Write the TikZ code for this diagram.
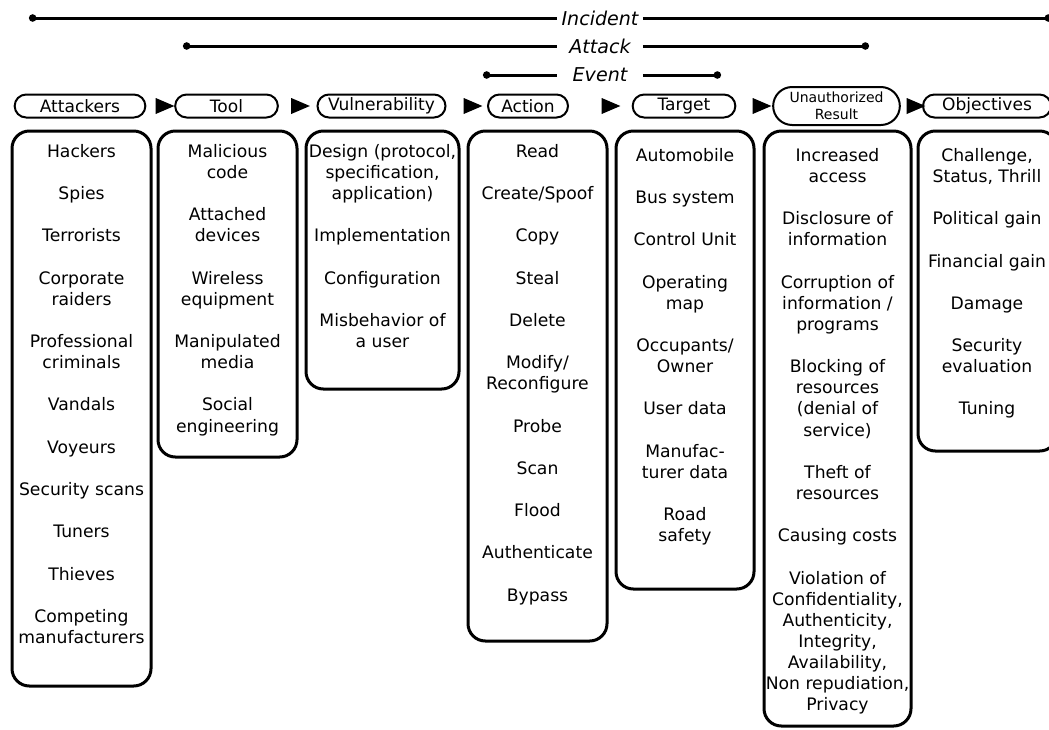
\documentclass[tikz,border=0pt]{standalone}
\usepackage{fontspec}
\setmainfont{DejaVu Sans}
\usetikzlibrary{arrows.meta,shapes.geometric,shapes.misc,fit}

\newlength\itemgap
\setlength\itemgap{15.85pt}

\tikzset{
	frame/.style={draw, line width=2.25pt, rounded corners=13pt, inner sep=0pt},
	head/.style={draw, rounded rectangle, line width=1.5pt, minimum height=17.25pt,
		inner sep=0pt, font=\fontsize{12.8}{15.85}\selectfont},
	tri/.style={fill, isosceles triangle, isosceles triangle stretches,
		minimum width=12pt, minimum height=14pt, inner sep=0pt},
	list/.style={align=center, anchor=north, inner sep=0pt,
		font=\fontsize{12.9}{15.85}\selectfont},
	span/.style={line width=2.25pt},
	spanlabel/.style={font=\itshape\fontsize{14.3}{17}\selectfont,
		minimum width=64pt, inner sep=0pt}
}

\begin{document}
\begin{tikzpicture}[x=0.75pt, y=-0.75pt]
		\useasboundingbox (0,0) rectangle (1049,729);

		% incident / attack / event
		\coordinate (incident start) at (29,18);
		\coordinate (incident end) at (1052,18);
		\coordinate (attack start) at (183,46);
		\coordinate (attack end) at (869,46);
		\coordinate (event start) at (483,75);
		\coordinate (event end) at (721,75);
		\node[spanlabel] (incident) at (600,18) {Incident};
		\node[spanlabel] (attack) at (600,46) {Attack};
		\node[spanlabel] (event) at (600,75) {Event};
		\foreach \s in {incident, attack, event}
		{
			\draw[span, {Circle[length=5.5pt]}-] (\s\space start) -- (\s);
			\draw[span, -{Circle[length=5.5pt]}] (\s) -- (\s\space end);
		}

		% headers
		\node[head, minimum width=98pt] (attackers) at (80,106) {Attackers};
		\node[head, minimum width=77pt] (tool) at (226.5,106) {Tool};
		\node[head, minimum width=96pt] (vulnerability) at (381.5,106) {Vulnerability};
		\node[head, minimum width=60pt] (action) at (528,106) {Action};
		\node[head, minimum width=77pt] (target) at (684,106) {Target};
		\node[head, minimum width=95pt, minimum height=28.5pt, align=center,
			font=\fontsize{10.5}{13}\selectfont] (result) at (836.5,106) {Unauthorized\\Result};
		\node[head, minimum width=96pt] (objectives) at (987,106) {Objectives};
		\foreach \x [count=\i] in {161, 296.5, 469, 607, 758, 912}
			\node[tri] (step\i) at (\x,106) {};

		% columns
		\node[frame, fit={(12,131) (151,686)}] (attackers box) {};
		\node[frame, fit={(158,131) (297,457)}] (tool box) {};
		\node[frame, fit={(306,131) (459,389)}] (vulnerability box) {};
		\node[frame, fit={(468,131) (607,641)}] (action box) {};
		\node[frame, fit={(616,131) (754,589)}] (target box) {};
		\node[frame, fit={(764,131) (911,726)}] (result box) {};
		\node[frame, fit={(918,131) (1057,451)}] (objectives box) {};

		\node[list] (attackers list) at (81.5,144)
			{Hackers\\[\itemgap]Spies\\[\itemgap]Terrorists\\[\itemgap]Corporate\\raiders\\[\itemgap]%
			Professional\\criminals\\[\itemgap]Vandals\\[\itemgap]Voyeurs\\[\itemgap]Security scans\\[\itemgap]%
			Tuners\\[\itemgap]Thieves\\[\itemgap]Competing\\manufacturers};
		\node[list] (tool list) at (227.5,144)
			{Malicious\\code\\[\itemgap]Attached\\devices\\[\itemgap]Wireless\\equipment\\[\itemgap]%
			Manipulated\\media\\[\itemgap]Social\\engineering};
		\node[list] (vulnerability list) at (382.5,144)
			{Design (protocol,\\specification,\\application)\\[\itemgap]Implementation\\[\itemgap]%
			Configuration\\[\itemgap]Misbehavior of\\a user};
		\node[list] (action list) at (537.5,144)
			{Read\\[\itemgap]Create/Spoof\\[\itemgap]Copy\\[\itemgap]Steal\\[\itemgap]Delete\\[\itemgap]%
			Modify/\\Reconfigure\\[\itemgap]Probe\\[\itemgap]Scan\\[\itemgap]Flood\\[\itemgap]%
			Authenticate\\[\itemgap]Bypass};
		\node[list] (target list) at (685,148)
			{Automobile\\[\itemgap]Bus system\\[\itemgap]Control Unit\\[\itemgap]Operating\\map\\[\itemgap]%
			Occupants/\\Owner\\[\itemgap]User data\\[\itemgap]Manufac-\\turer data\\[\itemgap]Road\\safety};
		\node[list] (result list) at (837.5,148)
			{Increased\\access\\[\itemgap]Disclosure of\\information\\[\itemgap]Corruption of\\information /\\programs\\[\itemgap]%
			Blocking of\\resources\\(denial of\\service)\\[\itemgap]Theft of\\resources\\[\itemgap]%
			Causing costs\\[\itemgap]Violation of\\Confidentiality,\\Authenticity,\\Integrity,\\%
			Availability,\\Non repudiation,\\Privacy};
		\node[list] (objectives list) at (987,148)
			{Challenge,\\Status, Thrill\\[\itemgap]Political gain\\[\itemgap]Financial gain\\[\itemgap]%
			Damage\\[\itemgap]Security\\evaluation\\[\itemgap]Tuning};
	\end{tikzpicture}
\end{document}
